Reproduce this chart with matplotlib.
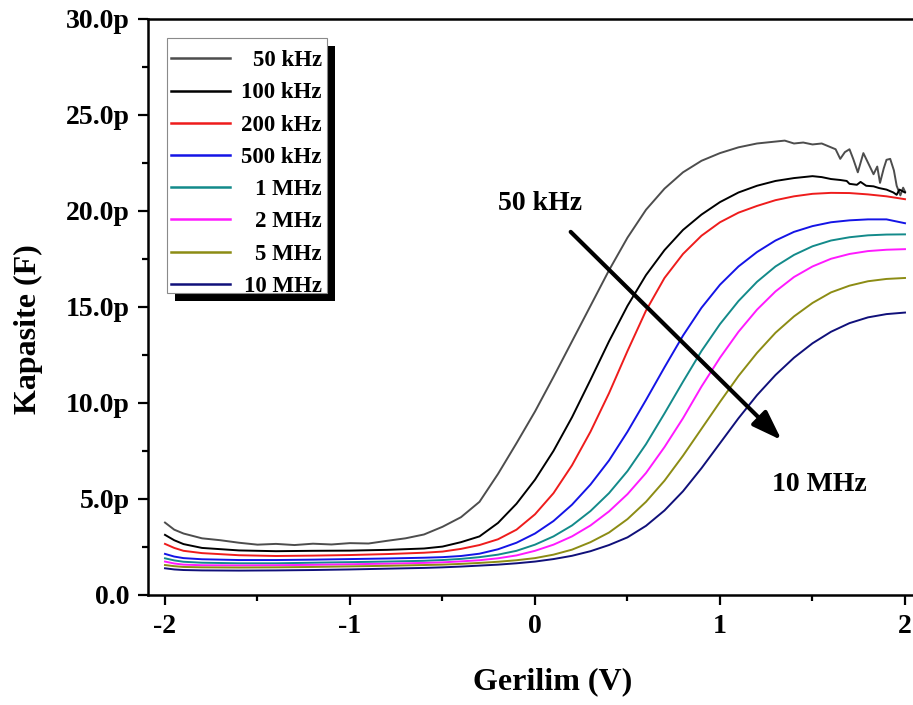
import matplotlib
matplotlib.use("Agg")
import matplotlib.pyplot as plt
from matplotlib.ticker import MultipleLocator, FuncFormatter
from matplotlib.patches import Rectangle

plt.rcParams["font.family"] = ["Liberation Serif", "DejaVu Serif"]
plt.rcParams["font.weight"] = "bold"
plt.rcParams["axes.unicode_minus"] = False

# C-V sweep, capacitance in pF
volts = [-2.0, -1.95, -1.9, -1.8, -1.6, -1.4, -1.2, -1.0, -0.8, -0.6, -0.5,
         -0.4, -0.3, -0.2, -0.1, 0.0, 0.1, 0.2, 0.3, 0.4, 0.5, 0.6, 0.7, 0.8,
         0.9, 1.0, 1.1, 1.2, 1.3, 1.4, 1.5, 1.6, 1.7, 1.8, 1.9, 2.0]

c_200k = [2.66, 2.45, 2.30, 2.18, 2.07, 2.03, 2.05, 2.08, 2.13, 2.20, 2.26,
          2.40, 2.60, 2.90, 3.40, 4.20, 5.30, 6.75, 8.50, 10.5, 12.7, 14.8,
          16.5, 17.75, 18.7, 19.4, 19.9, 20.25, 20.55, 20.75, 20.88, 20.93,
          20.92, 20.85, 20.75, 20.6]
c_500k = [2.14, 2.00, 1.92, 1.86, 1.82, 1.82, 1.84, 1.87, 1.90, 1.94, 1.97,
          2.03, 2.15, 2.38, 2.72, 3.20, 3.85, 4.70, 5.75, 7.00, 8.50, 10.15,
          11.85, 13.5, 14.95, 16.15, 17.1, 17.85, 18.45, 18.9, 19.2, 19.4,
          19.5, 19.55, 19.55, 19.35]
c_1m = [1.91, 1.80, 1.73, 1.68, 1.65, 1.65, 1.68, 1.71, 1.74, 1.78, 1.82,
        1.88, 1.97, 2.10, 2.30, 2.62, 3.05, 3.62, 4.37, 5.30, 6.45, 7.85,
        9.45, 11.1, 12.7, 14.1, 15.3, 16.3, 17.1, 17.7, 18.15, 18.45, 18.62,
        18.72, 18.76, 18.77]
c_2m = [1.74, 1.64, 1.58, 1.55, 1.54, 1.55, 1.57, 1.60, 1.63, 1.67, 1.70,
        1.75, 1.81, 1.91, 2.06, 2.30, 2.62, 3.05, 3.62, 4.35, 5.25, 6.35,
        7.70, 9.20, 10.85, 12.35, 13.7, 14.85, 15.8, 16.55, 17.1, 17.5, 17.75,
        17.9, 17.97, 18.0]
c_5m = [1.56, 1.50, 1.46, 1.44, 1.43, 1.44, 1.46, 1.49, 1.52, 1.56, 1.58,
        1.62, 1.67, 1.73, 1.81, 1.92, 2.10, 2.36, 2.75, 3.25, 3.95, 4.85,
        5.95, 7.25, 8.65, 10.05, 11.4, 12.6, 13.65, 14.5, 15.2, 15.75, 16.1,
        16.33, 16.45, 16.5]
c_10m = [1.39, 1.33, 1.30, 1.28, 1.27, 1.28, 1.30, 1.33, 1.37, 1.41, 1.44,
         1.48, 1.53, 1.58, 1.65, 1.74, 1.87, 2.04, 2.28, 2.60, 3.00, 3.60,
         4.40, 5.40, 6.60, 7.90, 9.20, 10.4, 11.45, 12.35, 13.1, 13.7, 14.15,
         14.45, 14.62, 14.7]

# low-frequency sweeps are noisier near accumulation, so sampled denser there
volts_50k = [-2.0, -1.95, -1.9, -1.8, -1.7, -1.6, -1.5, -1.4, -1.3, -1.2,
             -1.1, -1.0, -0.9, -0.8, -0.7, -0.6, -0.5, -0.4, -0.3, -0.2,
             -0.1, 0.0, 0.1, 0.2, 0.3, 0.4, 0.5, 0.6, 0.7, 0.8, 0.9, 1.0,
             1.1, 1.2, 1.3, 1.35, 1.4, 1.45, 1.5, 1.55, 1.6, 1.625, 1.65,
             1.675, 1.7, 1.72, 1.745, 1.775, 1.8, 1.83, 1.85, 1.865, 1.885,
             1.9, 1.92, 1.94, 1.955, 1.975, 1.99, 2.0]
c_50k = [3.77, 3.40, 3.20, 2.95, 2.85, 2.72, 2.62, 2.66, 2.60, 2.67,
         2.63, 2.70, 2.68, 2.82, 2.95, 3.15, 3.55, 4.05, 4.85, 6.30,
         7.90, 9.55, 11.35, 13.2, 15.05, 16.9, 18.6, 20.05, 21.15, 22.0,
         22.6, 23.0, 23.3, 23.5, 23.6, 23.65, 23.5, 23.55, 23.45, 23.5,
         23.3, 23.2, 22.7, 23.05, 23.2, 22.7, 22.0, 23.0, 22.5, 21.9,
         22.3, 21.45, 22.2, 22.65, 22.7, 22.1, 21.3, 20.8, 21.2, 21.0]

volts_100k = [-2.0, -1.95, -1.9, -1.8, -1.6, -1.4, -1.2, -1.0, -0.8, -0.6,
              -0.5, -0.4, -0.3, -0.2, -0.1, 0.0, 0.1, 0.2, 0.3, 0.4, 0.5,
              0.6, 0.7, 0.8, 0.9, 1.0, 1.1, 1.2, 1.3, 1.4, 1.5, 1.55, 1.6,
              1.65, 1.685, 1.7, 1.74, 1.76, 1.79, 1.83, 1.86, 1.9, 1.937,
              1.955, 1.97, 1.99, 2.0]
c_100k = [3.13, 2.85, 2.65, 2.45, 2.32, 2.28, 2.30, 2.31, 2.35, 2.42,
          2.52, 2.75, 3.05, 3.75, 4.75, 6.00, 7.50, 9.25, 11.2, 13.2, 15.05,
          16.65, 17.95, 19.0, 19.8, 20.45, 20.95, 21.3, 21.55, 21.7, 21.8,
          21.75, 21.65, 21.6, 21.55, 21.4, 21.35, 21.5, 21.3, 21.27, 21.18,
          21.1, 20.95, 20.83, 21.1, 21.0, 20.95]

freq_labels = ["50 kHz", "100 kHz", "200 kHz", "500 kHz",
               "1 MHz", "2 MHz", "5 MHz", "10 MHz"]
colors = ["#4d4d4d", "#000000", "#ee1c1c", "#1414e6",
          "#138a8a", "#ff1aff", "#8c8c14", "#10107a"]

series = [(volts_50k, c_50k), (volts_100k, c_100k), (volts, c_200k),
          (volts, c_500k), (volts, c_1m), (volts, c_2m), (volts, c_5m),
          (volts, c_10m)]

W, H = 913, 705
fig = plt.figure(figsize=(W / 100, H / 100), dpi=100)
# axes box in pixels: left, top, width, height (right edge runs off the canvas)
AX_L, AX_T, AX_W, AX_H = 148.4, 18.6, 767.6, 576.4
ax = fig.add_axes([AX_L / W, 1 - (AX_T + AX_H) / H, AX_W / W, AX_H / H])

for (v, c), col in zip(series, colors):
    ax.plot(v, c, color=col, lw=1.4, solid_joinstyle="round")

ax.set_xlim(-2.0897, 2.0595)
ax.set_ylim(0, 30)
ax.xaxis.set_major_locator(MultipleLocator(1))
ax.xaxis.set_minor_locator(MultipleLocator(0.5))
ax.yaxis.set_major_locator(MultipleLocator(5))
ax.yaxis.set_minor_locator(MultipleLocator(2.5))
ax.xaxis.set_major_formatter(FuncFormatter(lambda v, p: f"{v:.0f}"))
ax.yaxis.set_major_formatter(
    FuncFormatter(lambda v, p: "0.0" if v == 0 else f"{v:.1f}p"))

for s in ax.spines.values():
    s.set_linewidth(1.8)
ax.tick_params(which="major", direction="out", length=7.5, width=1.6,
               labelsize=20, pad=6)
ax.tick_params(which="minor", direction="out", length=4, width=1.6)
ax.tick_params(top=False, right=False, which="both")
for lab in ax.get_xticklabels() + ax.get_yticklabels():
    lab.set_fontweight("bold")

ax.set_xlabel("Gerilim (V)", fontsize=23, fontweight="bold")
ax.set_ylabel("Kapasite (F)", fontsize=23, fontweight="bold")
ax.xaxis.set_label_coords(0.526, -0.125)
ax.yaxis.set_label_coords(-0.137, 0.4615)


def ax_xy(px, py):
    return (px - AX_L) / AX_W, 1 - (py - AX_T) / AX_H


# legend box with a solid drop shadow
bx0, by0 = ax_xy(167.3, 293)
bx1, by1 = ax_xy(326.7, 38.3)
sx, sy = 8 / AX_W, 8 / AX_H
ax.add_patch(Rectangle((bx0 + sx, by0 - sy), bx1 - bx0, by1 - by0,
                       transform=ax.transAxes, facecolor="black",
                       edgecolor="none", zorder=5))
ax.add_patch(Rectangle((bx0, by0), bx1 - bx0, by1 - by0,
                       transform=ax.transAxes, facecolor="white",
                       edgecolor="#8a8a8a", lw=0.8, zorder=6))
for i, (lab, col) in enumerate(zip(freq_labels, colors)):
    row_y = 58.3 + 32.2 * i
    hx0, hy = ax_xy(170.7, row_y)
    hx1, _ = ax_xy(230, row_y)
    ax.plot([hx0, hx1], [hy, hy], color=col, lw=1.8,
            transform=ax.transAxes, zorder=7, clip_on=False)
    tx, ty = ax_xy(321.7, row_y + 8)
    ax.text(tx, ty, lab, transform=ax.transAxes, ha="right", va="baseline",
            fontsize=16.5, fontweight="bold", zorder=7)

# frequency trend arrow
ax.annotate("", xy=(1.333, 8.06), xytext=(0.193, 18.9),
            arrowprops=dict(arrowstyle="-|>,head_length=1.0,head_width=0.35",
                            color="black", lw=3, mutation_scale=18,
                            shrinkA=0, shrinkB=0))
ax.text(0.027, 20.4, "50 kHz", ha="center", va="center", fontsize=20,
        fontweight="bold")
ax.text(1.535, 5.77, "10 MHz", ha="center", va="center", fontsize=20,
        fontweight="bold")

fig.savefig("out.png", dpi=100)
